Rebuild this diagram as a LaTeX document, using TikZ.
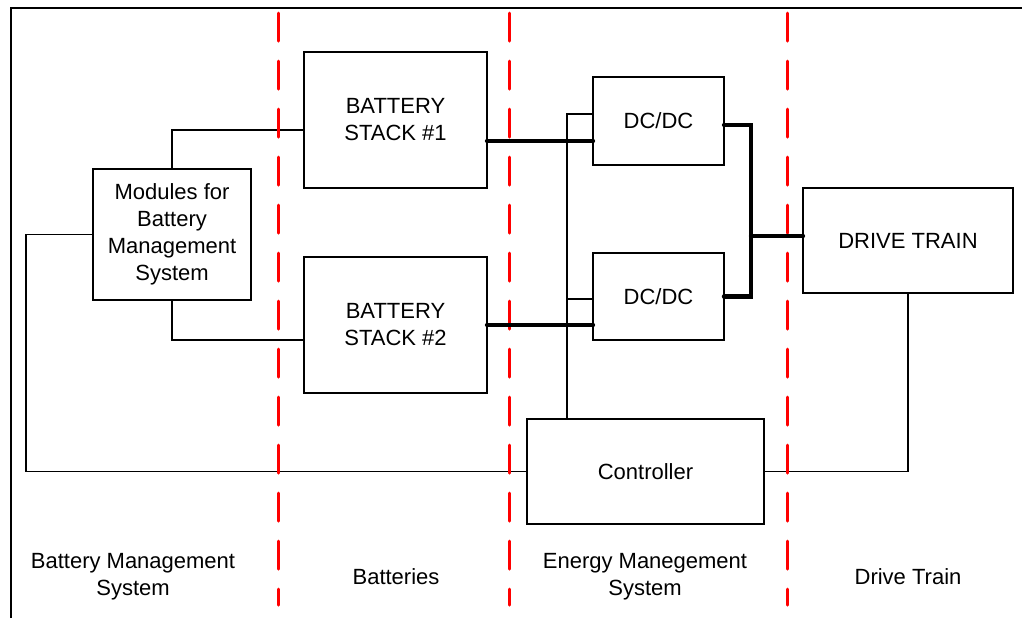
\documentclass[tikz,border=0pt]{standalone}
\usepackage{fontspec}
\setmainfont{Liberation Sans}
\usepackage{tikz}
\usetikzlibrary{calc}

\begin{document}
\begin{tikzpicture}[
  x=0.5pt, y=-0.5pt,
  block/.style={rectangle, draw=black, line width=0.6pt, fill=white,
                inner sep=0pt, outer sep=0pt, align=center,
                font=\fontsize{11}{13.5}\selectfont},
  wire/.style={draw=black, line width=0.6pt},
  power/.style={draw=black, line width=2.2pt, line cap=round},
  divider/.style={draw=red, line width=1.5pt, line cap=round,
                  dash pattern=on 14pt off 10pt},
  zone/.style={align=center, font=\fontsize{11}{13.5}\selectfont}
]
  \useasboundingbox (0,0) rectangle (1022,618);
  \draw[line width=1pt] (11,618) -- (11,8) -- (1022,8);

  \node[block, minimum width=79pt, minimum height=65.5pt] (bms) at (172,234.5)
       {Modules for\\Battery\\Management\\System};
  \node[block, minimum width=91.5pt, minimum height=68pt] (stackA) at (395.5,120)
       {BATTERY\\STACK \#1};
  \node[block, minimum width=91.5pt, minimum height=68pt] (stackB) at (395.5,325)
       {BATTERY\\STACK \#2};
  \node[block, minimum width=65.5pt, minimum height=44pt] (dcA) at (658.5,121) {DC/DC};
  \node[block, minimum width=65.5pt, minimum height=43.5pt] (dcB) at (658.5,296.5) {DC/DC};
  \node[block, minimum width=105pt, minimum height=52.5pt] (drive) at (908,240.5) {DRIVE TRAIN};
  \node[block, minimum width=118.5pt, minimum height=52.5pt] (ctrl) at (645.5,471.5) {Controller};

  % signal lines
  \draw[wire] (bms.north) |- (stackA.west |- 0,130);
  \draw[wire] (bms.south) |- (stackB.west |- 0,340);
  \draw[wire] (bms.west) -- ++(-67,0) |- (ctrl.west);
  \draw[wire] (ctrl.east) -| (drive.south);
  \coordinate (bus) at (567,114);
  \draw[wire] (dcA.west |- bus) -- (bus) -- (bus |- ctrl.north);
  \draw[wire] (bus |- 0,299) -- (dcB.west |- 0,299);

  % zone borders
  \foreach \x in {278,509,787}
    \draw[divider] (\x,13) -- (\x,605);

  % power lines
  \coordinate (join) at (751,236);
  \draw[power] (stackA.east |- 0,141) -- (dcA.west |- 0,141);
  \draw[power] (stackB.east) -- (dcB.west |- stackB.east);
  \draw[power] (dcA.east |- 0,125) -| (join) |- (dcB.east);
  \draw[power] (join) -- (join -| drive.west);

  \node[zone] (zBMS) at (133,577) {Battery Management\\System};
  \node[zone] (zBat) at (396,577) {Batteries};
  \node[zone] (zEMS) at (645,577) {Energy Manegement\\System};
  \node[zone] (zDT) at (908,577) {Drive Train};
\end{tikzpicture}
\end{document}
